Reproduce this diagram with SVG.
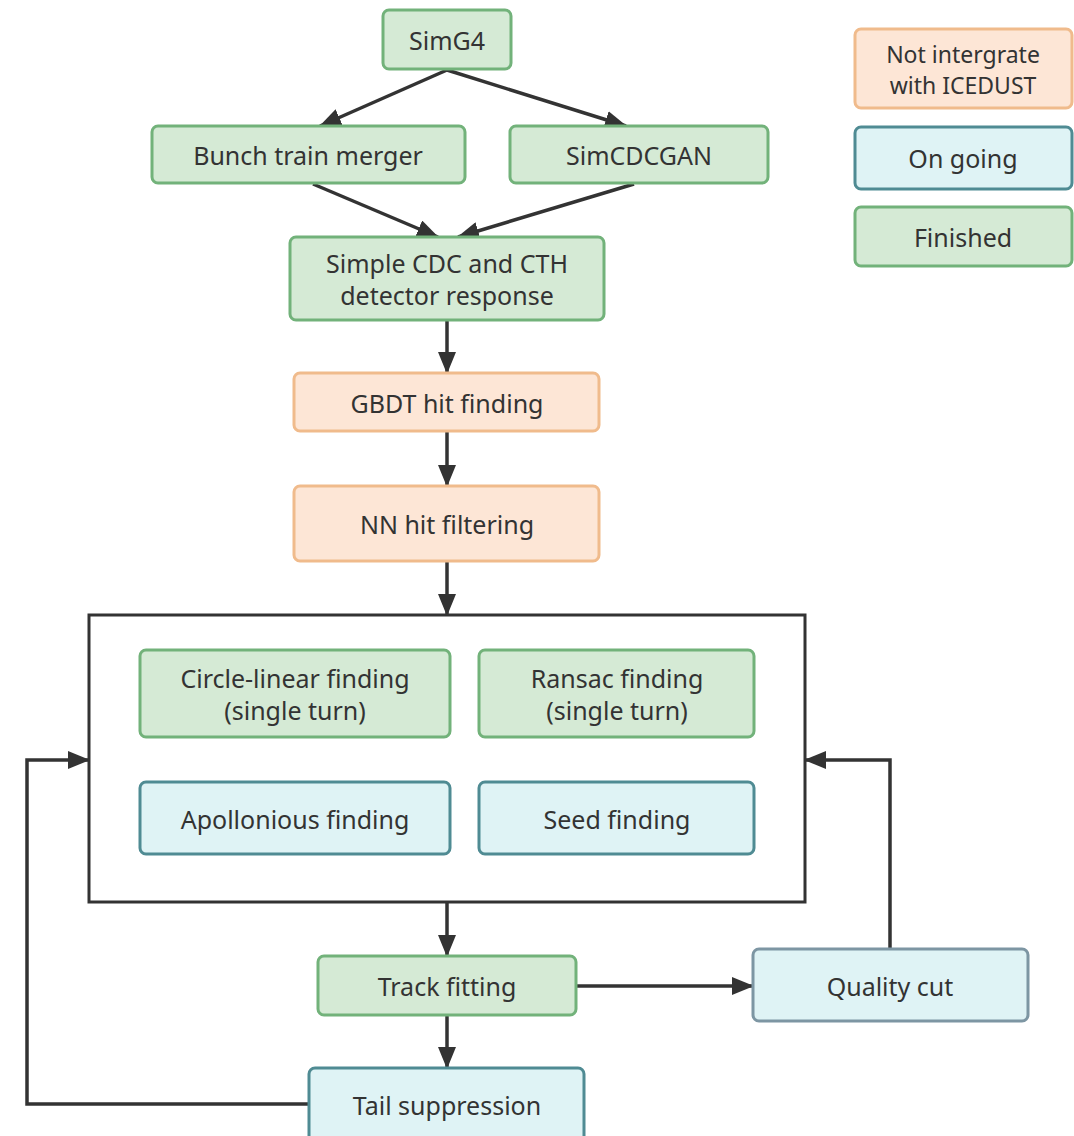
<svg xmlns="http://www.w3.org/2000/svg" width="1074" height="1136" viewBox="0 0 1074 1136">
<defs>
<style>
.g{fill:#d5ead5;stroke:#72b27a;stroke-width:3}
.o{fill:#fde6d6;stroke:#f0bb8c;stroke-width:3}
.b{fill:#dff3f5;stroke:#4f8b93;stroke-width:3}
.q{fill:#dff3f5;stroke:#7d96a3;stroke-width:3}
text{font-family:"Noto Sans","Open Sans",sans-serif;font-size:25px;fill:#333;text-anchor:middle;dominant-baseline:central}
.lg{font-size:23px}
.c{fill:none;stroke:#333;stroke-width:3.5}
</style>
<marker id="a" viewBox="0 0 22 18" refX="21" refY="9" markerWidth="22" markerHeight="18" markerUnits="userSpaceOnUse" orient="auto">
<path d="M0,0 L22,9 L0,18 Z" fill="#333"/>
</marker>
</defs>
<rect width="1074" height="1136" fill="#fff"/>
<g id="connectors">
<line class="c" x1="447" y1="70" x2="320" y2="126" marker-end="url(#a)"/>
<line class="c" x1="447" y1="70" x2="626" y2="126" marker-end="url(#a)"/>
<line class="c" x1="313" y1="184" x2="438" y2="237" marker-end="url(#a)"/>
<line class="c" x1="634" y1="184" x2="458" y2="237" marker-end="url(#a)"/>
<line class="c" x1="447" y1="321" x2="447" y2="373" marker-end="url(#a)"/>
<line class="c" x1="447" y1="432" x2="447" y2="486" marker-end="url(#a)"/>
<line class="c" x1="447" y1="562" x2="447" y2="615" marker-end="url(#a)"/>
<line class="c" x1="447" y1="903" x2="447" y2="956" marker-end="url(#a)"/>
<line class="c" x1="447" y1="1016" x2="447" y2="1068" marker-end="url(#a)"/>
<line class="c" x1="577" y1="986" x2="753" y2="986" marker-end="url(#a)"/>
<polyline class="c" points="890,949 890,760 805,760" marker-end="url(#a)"/>
<polyline class="c" points="309,1104 27,1104 27,760 89,760" marker-end="url(#a)"/>
</g>
<g id="group-box"><rect x="89" y="615" width="716" height="287" fill="none" stroke="#333" stroke-width="3"/></g>
<g id="simg4"><rect class="g" x="383" y="10" width="128" height="59" rx="6"/><text x="447" y="40">SimG4</text></g>
<g id="bunch"><rect class="g" x="152" y="126" width="313" height="57" rx="6"/><text x="308" y="155">Bunch train merger</text></g>
<g id="simcdcgan"><rect class="g" x="510" y="126" width="258" height="57" rx="6"/><text x="639" y="155">SimCDCGAN</text></g>
<g id="simple"><rect class="g" x="290" y="237" width="314" height="83" rx="6"/><text x="447" y="263">Simple CDC and CTH</text><text x="447" y="295">detector response</text></g>
<g id="gbdt"><rect class="o" x="294" y="373" width="305" height="58" rx="6"/><text x="447" y="403">GBDT hit finding</text></g>
<g id="nn"><rect class="o" x="294" y="486" width="305" height="75" rx="6"/><text x="447" y="524">NN hit filtering</text></g>
<g id="circle"><rect class="g" x="140" y="650" width="310" height="87" rx="6"/><text x="295" y="678">Circle-linear finding</text><text x="295" y="710">(single turn)</text></g>
<g id="ransac"><rect class="g" x="479" y="650" width="275" height="87" rx="6"/><text x="617" y="678">Ransac finding</text><text x="617" y="710">(single turn)</text></g>
<g id="apollonious"><rect class="b" x="140" y="782" width="310" height="72" rx="6"/><text x="295" y="819">Apollonious finding</text></g>
<g id="seed"><rect class="b" x="479" y="782" width="275" height="72" rx="6"/><text x="617" y="819">Seed finding</text></g>
<g id="track"><rect class="g" x="318" y="956" width="258" height="59" rx="6"/><text x="447" y="986">Track fitting</text></g>
<g id="quality"><rect class="q" x="753" y="949" width="275" height="72" rx="6"/><text x="890" y="986">Quality cut</text></g>
<g id="tail"><rect class="b" x="309" y="1068" width="275" height="80" rx="6"/><text x="447" y="1105">Tail suppression</text></g>
<g id="legend-not"><rect class="o" x="855" y="29" width="217" height="79" rx="6"/><text class="lg" x="963" y="54">Not intergrate</text><text class="lg" x="963" y="85">with ICEDUST</text></g>
<g id="legend-ongoing"><rect class="b" x="855" y="127" width="217" height="62" rx="6"/><text x="963" y="158">On going</text></g>
<g id="legend-finished"><rect class="g" x="855" y="207" width="217" height="59" rx="6"/><text x="963" y="237">Finished</text></g>
</svg>
